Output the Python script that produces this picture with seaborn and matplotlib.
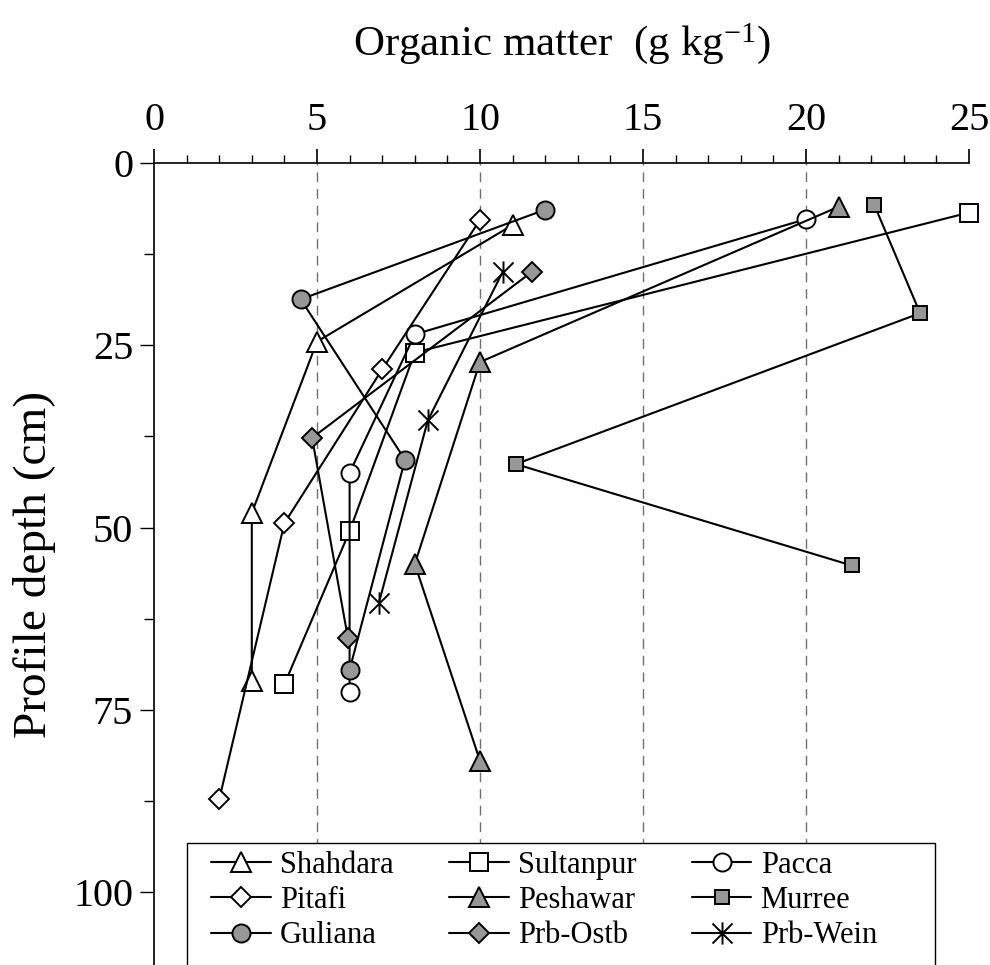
import matplotlib
matplotlib.use("Agg")
import matplotlib.pyplot as plt
import seaborn as sns
import pandas as pd
from matplotlib.ticker import MultipleLocator
from matplotlib.path import Path
from matplotlib.patches import Rectangle

# ---- data (organic matter g/kg vs profile depth cm) ----
shahdara_om = [11, 5, 3, 3]
shahdara_depth = [8.5, 24.5, 48, 71]
sultanpur_om = [25, 8, 6, 4]
sultanpur_depth = [6.8, 26, 50.5, 71.5]
pacca_om = [20, 8, 6, 6]
pacca_depth = [7.7, 23.5, 42.5, 72.5]
pitafi_om = [10, 7, 4, 2]
pitafi_depth = [7.8, 28.3, 49.4, 87.3]
peshawar_om = [21, 10, 8, 10]
peshawar_depth = [6.0, 27.3, 55, 82]
murree_om = [22.1, 23.5, 11.1, 21.4]
murree_depth = [5.8, 20.6, 41.3, 55.2]
guliana_om = [12, 4.5, 7.7, 6]
guliana_depth = [6.4, 18.7, 40.7, 69.5]
prbostb_om = [11.6, 4.85, 5.95]
prbostb_depth = [14.9, 37.7, 65.2]
prbwein_om = [10.7, 8.4, 6.9]
prbwein_depth = [14.9, 35.3, 60.3]

series_names = ["Shahdara", "Sultanpur", "Pacca", "Pitafi", "Peshawar",
                "Murree", "Guliana", "Prb-Ostb", "Prb-Wein"]
x_ticks = [0, 5, 10, 15, 20, 25]
y_ticks = [0, 25, 50, 75, 100]

series_data = [
    (shahdara_om, shahdara_depth),
    (sultanpur_om, sultanpur_depth),
    (pacca_om, pacca_depth),
    (pitafi_om, pitafi_depth),
    (peshawar_om, peshawar_depth),
    (murree_om, murree_depth),
    (guliana_om, guliana_depth),
    (prbostb_om, prbostb_depth),
    (prbwein_om, prbwein_depth),
]

# asterisk marker: vertical bar plus an X
star_path = Path(
    [(0, -1), (0, 1), (-0.9, -0.9), (0.9, 0.9), (-0.9, 0.9), (0.9, -0.9)],
    [Path.MOVETO, Path.LINETO, Path.MOVETO, Path.LINETO, Path.MOVETO, Path.LINETO],
)

GRAY = "#979797"
styles = {
    "Shahdara": dict(marker="^", markerfacecolor="white", markersize=14),
    "Sultanpur": dict(marker="s", markerfacecolor="white", markersize=13),
    "Pacca": dict(marker="o", markerfacecolor="white", markersize=13),
    "Pitafi": dict(marker="D", markerfacecolor="white", markersize=10.5),
    "Peshawar": dict(marker="^", markerfacecolor=GRAY, markersize=14),
    "Murree": dict(marker="s", markerfacecolor=GRAY, markersize=10.5),
    "Guliana": dict(marker="o", markerfacecolor=GRAY, markersize=13),
    "Prb-Ostb": dict(marker="D", markerfacecolor=GRAY, markersize=10.5),
    "Prb-Wein": dict(marker=star_path, markerfacecolor="black", markersize=16),
}

sns.set_theme(style="white")
plt.rcParams["font.family"] = ["Liberation Serif", "DejaVu Serif"]
plt.rcParams["mathtext.fontset"] = "custom"
plt.rcParams["mathtext.rm"] = "Liberation Serif"
plt.rcParams["mathtext.default"] = "regular"
plt.rcParams["text.color"] = "black"
plt.rcParams["axes.labelcolor"] = "black"
plt.rcParams["xtick.color"] = "black"
plt.rcParams["ytick.color"] = "black"

fig = plt.figure(figsize=(9.9, 9.65), dpi=100)
AX_L, AX_R, AX_T, AX_B = 154, 969, 163, 965
ax = fig.add_axes([AX_L / 990, 0.0, (AX_R - AX_L) / 990, 1 - AX_T / 965])


def px_to_ax(px, py):
    return (px - AX_L) / (AX_R - AX_L), 1 - (py - AX_T) / (AX_B - AX_T)


for xv in [5, 10, 15, 20]:
    ax.axvline(xv, color="#707070", lw=1.0, ls=(0, (7, 5)), zorder=0)

handles = {}
for name, (om, depth) in zip(series_names, series_data):
    df = pd.DataFrame({"om": om, "depth": depth})
    sns.lineplot(data=df, x="om", y="depth", sort=False, estimator=None,
                 ax=ax, color="black", lw=1.5, markeredgecolor="black",
                 markeredgewidth=1.4, label=name, zorder=3, clip_on=False,
                 **styles[name])
    handles[name] = ax.get_lines()[-1]

ax.set_xlim(0, 25)
ax.set_ylim(110, 0)
ax.xaxis.tick_top()
ax.xaxis.set_label_position("top")
ax.set_xticks(x_ticks)
ax.set_xticklabels([str(t) for t in x_ticks])
ax.xaxis.set_minor_locator(MultipleLocator(1))
ax.set_yticks(y_ticks)
ax.set_yticklabels([str(t) for t in y_ticks])
ax.yaxis.set_minor_locator(MultipleLocator(12.5))

ax.tick_params(axis="x", which="major", direction="out", length=10, width=1.2,
               labelsize=29, pad=7, top=True, bottom=False)
ax.tick_params(axis="x", which="minor", direction="out", length=6, width=1.0,
               top=True, bottom=False)
ax.tick_params(axis="y", which="major", direction="out", length=10, width=1.0,
               labelsize=29, pad=5, left=True)
ax.tick_params(axis="y", which="minor", direction="out", length=7, width=1.0,
               left=True)

for side in ["right", "bottom"]:
    ax.spines[side].set_visible(False)
for side in ["top", "left"]:
    ax.spines[side].set_color("black")
    ax.spines[side].set_linewidth(1.2)

ax.set_xlabel("Organic matter  (g kg$^{-1}$)", fontsize=31, labelpad=34)
ax.set_ylabel("Profile depth (cm)", fontsize=34, labelpad=12)

# legend, filled row by row like the reference
order = ["Shahdara", "Pitafi", "Guliana", "Sultanpur", "Peshawar",
         "Prb-Ostb", "Pacca", "Murree", "Prb-Wein"]
lx, ly = px_to_ax(211, 851)
leg = ax.legend([handles[n] for n in order], order, ncol=3, loc="upper left",
                bbox_to_anchor=(lx, ly), fontsize=22, frameon=False,
                handlelength=1.95, handletextpad=0.3, columnspacing=1.82,
                labelspacing=0.2, borderpad=0, borderaxespad=0)
leg.set_zorder(6)
fx0, fy0 = px_to_ax(187, 843)
fx1, _ = px_to_ax(935, 843)
frame = Rectangle((fx0, -0.05), fx1 - fx0, fy0 + 0.05, transform=ax.transAxes,
                  facecolor="white", edgecolor="black", lw=1.0, zorder=5,
                  clip_on=False)
ax.add_patch(frame)

fig.savefig("out.png", dpi=100)
